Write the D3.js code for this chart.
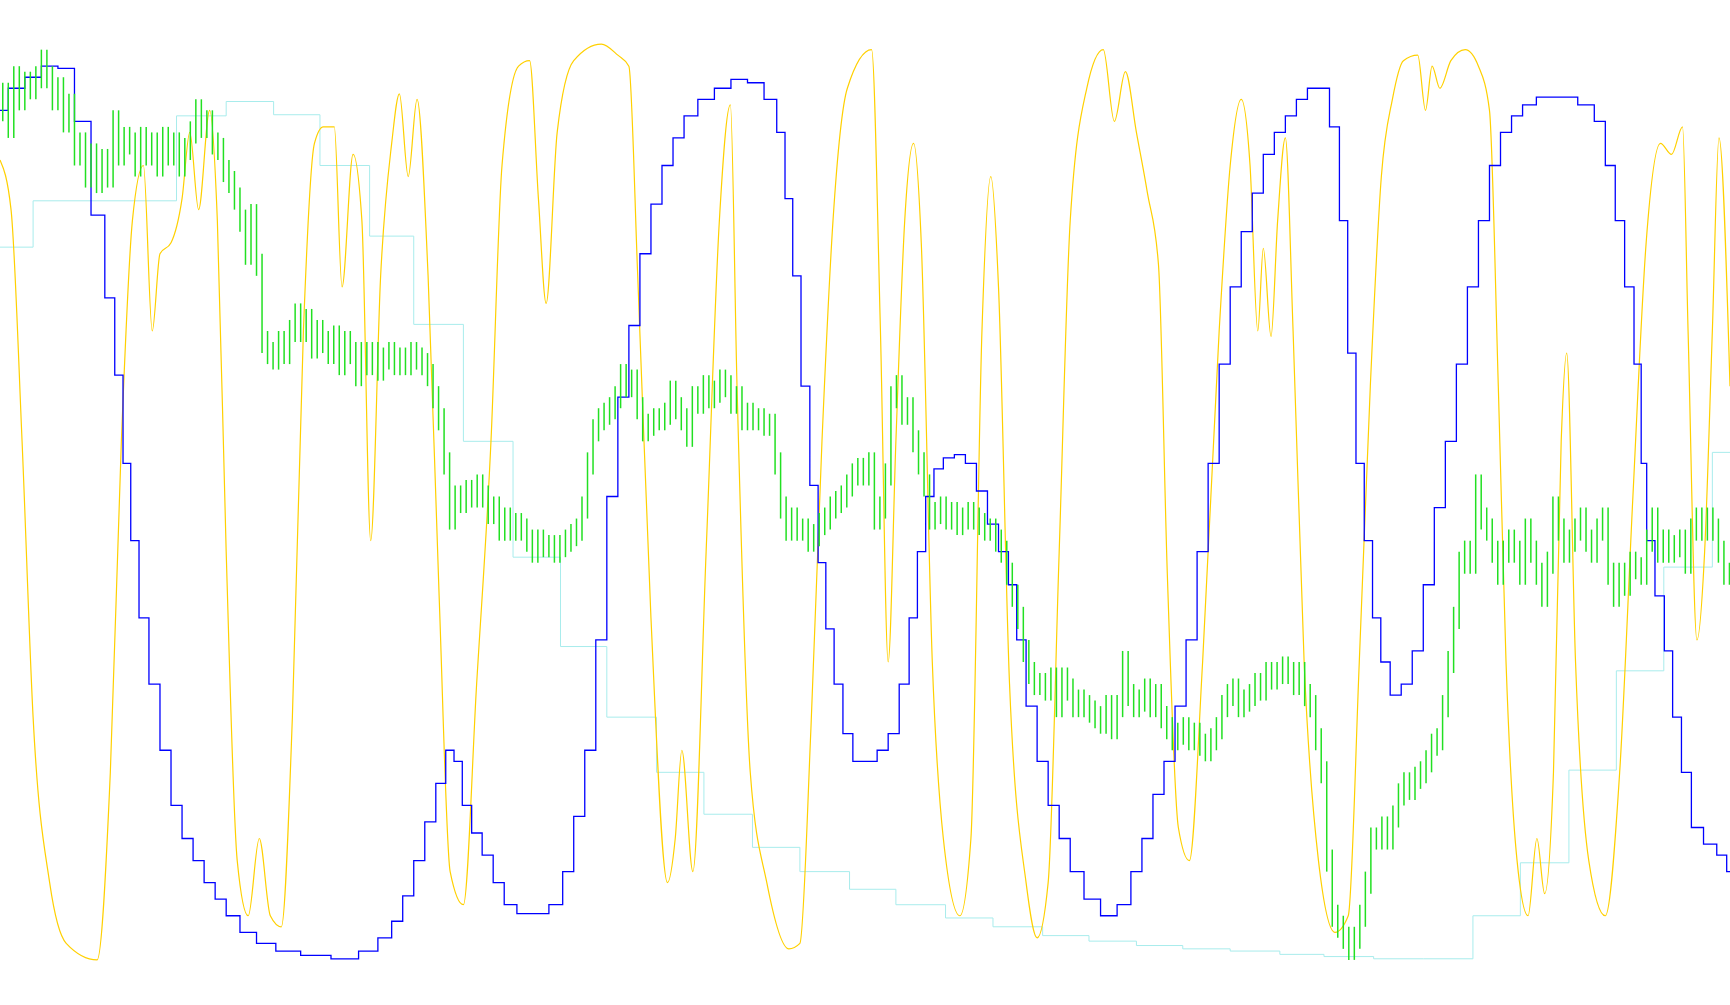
<!DOCTYPE html>
<html><head><meta charset="utf-8">
<script src="https://cdn.jsdelivr.net/npm/d3@7"></script>
<style>body{margin:0;background:#fff}svg{display:block}</style>
</head><body><svg id="c" width="1730" height="1005"></svg>
<script>
const cyanT = [0,30,160,205,248,290,335,375,420,465,508,550,595,638,682,725,770,812,857,900,945,987,1030,1072,1115,1160,1200,1245,1290,1335,1378,1422,1465,1508,1552,1568];
const cyanV = [224,182,105,92,104,150,214,294,400,505,586,650,700,738,768,790,806,820,832,840,848,853,857,860,862,865,867,869,869,830,782,698,608,514,410,410];
const yellowT = [0,10,20,30,45,60,88,100,110,120,130,138,145,155,165,172,180,190,197,205,215,225,235,245,255,265,275,285,293,303,310,320,328,336,345,355,362,370,378,388,398,408,420,432,445,455,470,480,488,495,505,520,545,560,570,578,590,605,612,618,628,640,652,662,668,680,695,715,725,735,745,755,768,790,798,805,812,820,828,835,845,855,870,880,890,898,905,915,930,940,950,960,970,985,1000,1010,1020,1030,1040,1050,1058,1068,1078,1090,1105,1115,1125,1133,1140,1145,1152,1158,1165,1172,1182,1195,1210,1222,1232,1242,1252,1262,1272,1285,1292,1298,1305,1315,1328,1340,1350,1358,1365,1375,1385,1393,1400,1408,1415,1420,1428,1440,1455,1468,1480,1492,1505,1515,1525,1530,1538,1545,1552,1558,1568];
const yellowV = [145,190,400,650,800,855,870,700,400,200,150,300,230,220,180,120,190,100,200,500,780,830,760,830,840,650,300,130,115,115,260,140,200,490,250,130,85,160,90,250,540,790,820,620,400,150,60,55,180,275,120,55,40,50,60,250,560,800,760,680,790,500,200,95,350,700,800,860,855,660,400,200,80,45,300,600,400,200,130,220,600,760,830,760,300,160,260,620,800,850,800,500,200,80,45,110,65,120,175,240,520,750,780,600,300,150,90,150,300,225,305,200,125,300,600,780,845,830,600,350,160,90,55,50,100,60,80,55,45,60,100,350,600,780,830,760,810,700,400,320,600,780,830,700,450,220,130,140,115,300,580,500,300,125,350];
const blueT = [0,15,30,45,60,75,90,100,108,115,122,130,140,150,160,170,180,190,200,210,225,240,260,285,315,335,350,360,370,380,390,400,408,415,423,432,442,452,462,475,490,505,515,525,535,545,555,565,575,585,595,605,615,625,640,655,670,685,700,708,715,722,730,738,745,752,760,768,778,790,800,810,820,828,835,843,850,860,870,880,890,900,910,918,925,935,945,955,965,975,990,1005,1020,1030,1040,1050,1060,1070,1080,1090,1100,1110,1120,1130,1140,1150,1160,1170,1180,1190,1200,1210,1218,1225,1233,1240,1248,1255,1265,1275,1285,1295,1305,1315,1325,1335,1345,1355,1365,1375,1385,1400,1420,1440,1450,1460,1468,1477,1485,1490,1495,1505,1512,1520,1528,1538,1550,1562,1568];
const blueV = [100,80,70,60,62,110,195,270,340,420,490,560,620,680,730,760,780,800,815,830,845,855,862,866,869,862,850,835,812,780,745,710,680,690,730,755,775,800,820,828,828,820,790,740,680,580,450,360,295,230,185,150,125,105,90,80,72,75,90,120,180,250,350,440,510,570,620,665,690,690,680,665,620,560,500,450,425,415,412,420,445,475,500,530,580,640,690,730,760,790,815,830,820,790,760,720,690,640,580,500,420,330,260,210,175,140,120,105,90,80,80,115,200,320,420,490,560,600,630,620,590,530,460,400,330,260,200,150,120,105,95,88,88,95,110,150,200,260,330,420,490,540,590,650,700,750,765,775,790];
const greenV = [100,85,115,70,90,75,80,70,55,70,90,80,110,95,140,130,160,140,165,145,160,110,140,125,130,150,125,140,130,150,125,140,130,150,135,120,100,115,110,130,135,155,165,180,200,230,195,240,310,320,325,310,320,300,285,300,290,315,300,310,320,305,330,310,320,340,320,330,320,335,325,320,330,325,330,320,325,330,340,360,380,420,470,450,455,445,450,440,450,465,460,480,470,480,475,480,490,500,490,495,495,500,495,490,485,480,460,420,390,380,375,370,360,340,350,345,370,390,385,380,380,375,355,370,380,395,360,365,350,360,355,345,350,365,360,380,375,380,380,385,385,420,460,480,470,480,480,490,485,475,470,460,455,450,440,430,425,430,420,470,460,430,360,350,375,370,400,420,440,470,465,460,470,465,475,470,465,470,475,480,480,490,500,520,540,560,590,610,620,620,625,615,640,615,625,640,635,640,645,650,655,640,660,640,600,630,640,635,625,640,630,650,660,670,665,660,670,665,675,680,670,660,640,630,625,640,635,630,620,625,610,615,610,605,610,620,610,630,640,670,700,780,830,840,850,860,850,830,800,760,760,750,760,740,720,710,715,705,700,690,675,670,640,600,560,510,500,510,440,470,480,500,520,500,490,500,520,480,500,520,540,510,460,480,500,490,480,470,490,500,480,470,520,540,520,530,510,515,520,490,470,500,490,500,495,490,510,480,470,480,470,480,500,520,520];

const svg = d3.select("#c");
const k = 1730/1568;
const x = d3.scaleLinear().domain([0,1568]).range([0,1568*k]);
const y = d3.scaleLinear().domain([0,900]).range([0,900*k]);

function draw(T, V, color, curve, w){
  const line = d3.line().x((d,i)=>x(T[i])).y(d=>y(d)).curve(curve);
  svg.append("path").datum(V).attr("d", line).attr("fill","none")
     .attr("stroke", color).attr("stroke-width", w);
}
draw(cyanT, cyanV, "#a8ecec", d3.curveStepAfter, 1);
draw(yellowT, yellowV, "#ffd000", d3.curveMonotoneX, 1.2);
draw(blueT, blueV, "#0000ff", d3.curveStep, 1.3);
const gT = greenV.map((d,i)=>i*5);
svg.append("g").selectAll("line").data(greenV.slice(0,-1)).join("line")
  .attr("x1",(d,i)=>x(gT[i]+2.5)).attr("x2",(d,i)=>x(gT[i]+2.5))
  .attr("y1",(d,i)=>y(Math.min(d,greenV[i+1])-10)).attr("y2",(d,i)=>y(Math.max(d,greenV[i+1])+10))
  .attr("stroke","#22e022").attr("stroke-width",1.5);
</script></body></html>
